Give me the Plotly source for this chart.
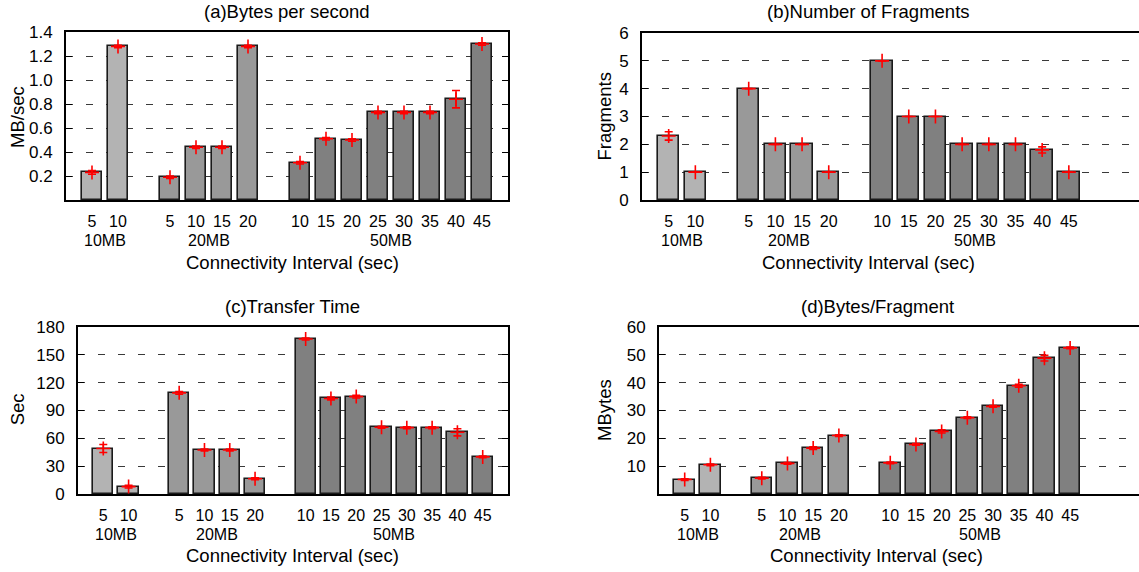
import plotly.graph_objects as go

# ---------------- data ----------------
intervals = ["5", "10", "5", "10", "15", "20", "10", "15", "20", "25", "30", "35", "40", "45"]
groups = ["10MB", "10MB", "20MB", "20MB", "20MB", "20MB",
          "50MB", "50MB", "50MB", "50MB", "50MB", "50MB", "50MB", "50MB"]
group_names = ["10MB", "20MB", "50MB"]

bytes_per_sec = [0.23, 1.28, 0.19, 0.44, 0.44, 1.28, 0.31, 0.51, 0.50, 0.73, 0.73, 0.73, 0.84, 1.30]
bytes_per_sec_err = [0.015, 0.01, 0.01, 0.01, 0.01, 0.01, 0.01, 0.01, 0.01, 0.01, 0.01, 0.01, 0.072, 0.01]

num_fragments = [2.3, 1, 4, 2, 2, 1, 5, 3, 3, 2, 2, 2, 1.8, 1]
num_fragments_err = [0.15, 0, 0, 0, 0, 0, 0, 0, 0, 0, 0, 0, 0.11, 0]

transfer_time = [49, 8, 109, 47.5, 47.5, 16.5, 167, 103, 105, 72, 71.5, 71.5, 66.5, 40]
transfer_time_err = [4.3, 1.5, 1.5, 1, 1, 1, 1, 1.5, 1.5, 1, 1, 1, 3.9, 1]

bytes_per_frag = [5.2, 10.5, 5.7, 11.0, 16.5, 21.0, 11.2, 17.8, 22.5, 27.4, 31.5, 38.9, 48.8, 52.5]
bytes_per_frag_err = [0.3, 0.3, 0.3, 0.3, 0.5, 0.3, 0.3, 0.3, 0.6, 0.3, 0.3, 0.5, 1.0, 0.3]

# slot positions of bars (gaps between the groups)
slots = [0, 1, 3, 4, 5, 6, 8, 9, 10, 11, 12, 13, 14, 15]
group_centers = [0.5, 4.5, 11.5]

group_colors = {"10MB": "#b3b3b3", "20MB": "#999999", "50MB": "#808080"}

W, H = 1139, 572
FONT = "Liberation Sans, Arial, Helvetica, sans-serif"
YTICK_SIZE = 17
XTICK_SIZE = 16
LABEL_SIZE = 18.5
GROUP_SIZE = 16


def px_x(p):
    return p / W


def px_y(p):
    return 1 - p / H


panels = [
    dict(title="(a)Bytes per second", ytitle="MB/sec", y=bytes_per_sec, err=bytes_per_sec_err,
         xdom=[66, 508], ydom=[32, 200], xr=[-1, 16], yr=[0, 1.4],
         ytv=[0.2, 0.4, 0.6, 0.8, 1.0, 1.2, 1.4], ytt=["0.2", "0.4", "0.6", "0.8", "1.0", "1.2", "1.4"],
         tpos=(287, 12), xtpos=(292.7, 262), ytpos=(17, 117), glab_y=240, full=True),
    dict(title="(b)Number of Fragments", ytitle="Fragments", y=num_fragments, err=num_fragments_err,
         xdom=[642, 1139], ydom=[33, 200], xr=[-1, 17.63], yr=[0, 6],
         ytv=[0, 1, 2, 3, 4, 5, 6], ytt=["0", "1", "2", "3", "4", "5", "6"],
         tpos=(868, 12), xtpos=(868, 262), ytpos=(604, 116.5), glab_y=240, full=False),
    dict(title="(c)Transfer Time", ytitle="Sec", y=transfer_time, err=transfer_time_err,
         xdom=[78, 508], ydom=[327, 494], xr=[-1, 16], yr=[0, 180],
         ytv=[0, 30, 60, 90, 120, 150, 180], ytt=["0", "30", "60", "90", "120", "150", "180"],
         tpos=(292.7, 306.7), xtpos=(292.7, 555.3), ytpos=(17, 409.3), glab_y=534, full=True),
    dict(title="(d)Bytes/Fragment", ytitle="MBytes", y=bytes_per_frag, err=bytes_per_frag_err,
         xdom=[659, 1139], ydom=[327, 494], xr=[-1, 17.68], yr=[0, 60],
         ytv=[10, 20, 30, 40, 50, 60], ytt=["10", "20", "30", "40", "50", "60"],
         tpos=(877.3, 306.7), xtpos=(876.7, 555.3), ytpos=(604, 410), glab_y=534, full=False),
]

fig = go.Figure()
annotations = []
layout = {}

bar_colors = [group_colors[g] for g in groups]

for i, p in enumerate(panels, start=1):
    xa = "x" if i == 1 else f"x{i}"
    ya = "y" if i == 1 else f"y{i}"
    fig.add_trace(go.Bar(
        x=slots, y=p["y"], width=0.8, xaxis=xa, yaxis=ya,
        marker=dict(color=bar_colors, line=dict(color="#1a1a1a", width=1.6)),
        showlegend=False, hoverinfo="skip"))
    fig.add_trace(go.Scatter(
        x=slots, y=p["y"], xaxis=xa, yaxis=ya, mode="markers",
        marker=dict(symbol="cross-thin", size=10, line=dict(color="#ff0000", width=1.6), color="#ff0000"),
        error_y=dict(type="data", array=p["err"], visible=True, color="#ff0000", thickness=1.6, width=4),
        showlegend=False, hoverinfo="skip", cliponaxis=False))

    xkey = "xaxis" if i == 1 else f"xaxis{i}"
    ykey = "yaxis" if i == 1 else f"yaxis{i}"
    layout[xkey] = dict(
        domain=[px_x(p["xdom"][0]), px_x(p["xdom"][1])], anchor=ya, range=p["xr"],
        tickvals=slots, ticktext=intervals, ticks="", showgrid=False, zeroline=False,
        showline=True, linecolor="#000", linewidth=2, mirror=True, automargin=False,
        tickfont=dict(family=FONT, size=XTICK_SIZE, color="#000"), ticklabelstandoff=6)
    layout[ykey] = dict(
        domain=[px_y(p["ydom"][1]), px_y(p["ydom"][0])], anchor=xa, range=p["yr"],
        tickvals=p["ytv"], ticktext=p["ytt"], ticks="inside", ticklen=6, tickcolor="#000", tickwidth=1,
        showgrid=True, gridcolor="#3a3a3a", gridwidth=1, griddash="7px,13px", zeroline=False,
        showline=True, linecolor="#000", linewidth=2, mirror=("ticks" if p["full"] else False),
        automargin=False,
        tickfont=dict(family=FONT, size=YTICK_SIZE, color="#000"), ticklabelstandoff=8)

    annotations.append(dict(text=p["title"], x=px_x(p["tpos"][0]), y=px_y(p["tpos"][1]),
                            xref="paper", yref="paper", showarrow=False,
                            xanchor="center", yanchor="middle",
                            font=dict(family=FONT, size=LABEL_SIZE, color="#000")))
    annotations.append(dict(text="Connectivity Interval (sec)", x=px_x(p["xtpos"][0]), y=px_y(p["xtpos"][1]),
                            xref="paper", yref="paper", showarrow=False,
                            xanchor="center", yanchor="middle",
                            font=dict(family=FONT, size=LABEL_SIZE, color="#000")))
    annotations.append(dict(text=p["ytitle"], x=px_x(p["ytpos"][0]), y=px_y(p["ytpos"][1]),
                            xref="paper", yref="paper", showarrow=False, textangle=-90,
                            xanchor="center", yanchor="middle",
                            font=dict(family=FONT, size=LABEL_SIZE, color="#000")))
    for gname, gc in zip(group_names, group_centers):
        annotations.append(dict(text=gname, x=gc, y=px_y(p["glab_y"]),
                                xref=xa, yref="paper", showarrow=False,
                                xanchor="center", yanchor="middle",
                                font=dict(family=FONT, size=GROUP_SIZE, color="#000")))

fig.update_layout(
    width=W, height=H, margin=dict(l=0, r=0, t=0, b=0, pad=0, autoexpand=False),
    paper_bgcolor="#ffffff", plot_bgcolor="#ffffff",
    bargap=0, annotations=annotations, **layout)

fig.write_html("out.html", config={"displayModeBar": False},
               post_script="document.body.style.margin='0';document.body.style.overflow='hidden';")
